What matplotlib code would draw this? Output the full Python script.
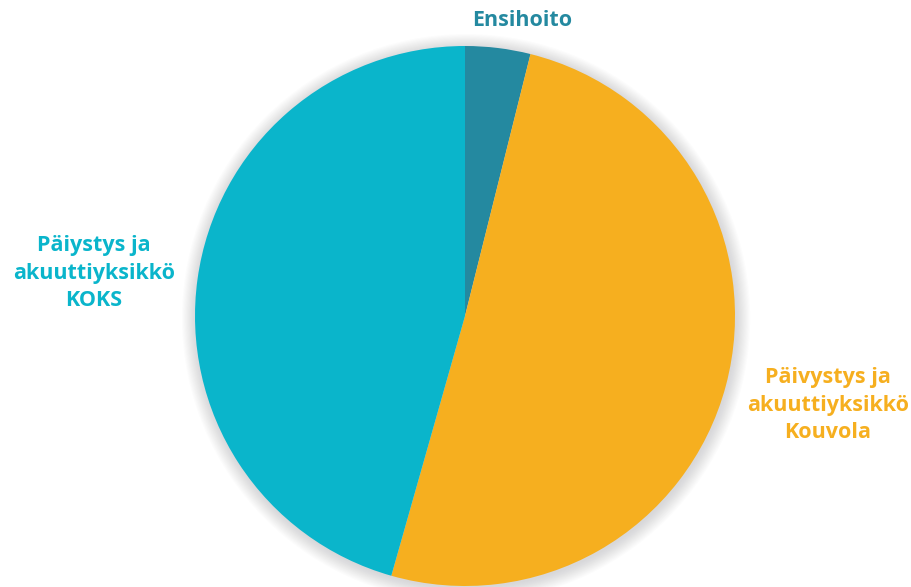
import numpy as np
import matplotlib.pyplot as plt
from matplotlib.patches import Circle

# Osuudet yksiköittäin
labels = ["Ensihoito", "Päivystys ja\nakuuttiyksikkö\nKouvola", "Päiystys ja\nakuuttiyksikkö\nKOKS"]
values = [3.9, 50.5, 45.6]
colors = ["#2489A0", "#F6AF1F", "#0AB5CB"]

plt.rcParams['font.family'] = ['Open Sans', 'DejaVu Sans']

W, H = 912, 587
fig = plt.figure(figsize=(W / 100, H / 100), dpi=100)
cx, cy, r = 465, 316, 270
ax = fig.add_axes([(cx - r) / W, (H - cy - r) / H, 2 * r / W, 2 * r / H])
ax.set_xlim(-1, 1)
ax.set_ylim(-1, 1)
ax.set_aspect('equal')
ax.axis('off')

# pehmeä varjo piirakan ympärille
for i in range(14):
    ax.add_patch(Circle((0.004, -0.008), 1.0 + 0.004 * i, color='#a0a0a6',
                        alpha=0.03, lw=0, zorder=0, clip_on=False))

ax.pie(values, colors=colors, startangle=90, counterclock=False, radius=1.0,
       wedgeprops=dict(linewidth=0, zorder=2))
ax.set_xlim(-1, 1)
ax.set_ylim(-1, 1)

# tekstit
kw = dict(fontsize=15.5, fontweight='bold', ha='center', va='center', linespacing=1.4)
fig.text(522 / W, 1 - 20 / H, labels[0], color=colors[0], **kw)
fig.text(828 / W, 1 - 405 / H, labels[1], color=colors[1], **kw)
fig.text(94 / W, 1 - 273 / H, labels[2], color=colors[2], **kw)

fig.savefig("out.png", dpi=100)
